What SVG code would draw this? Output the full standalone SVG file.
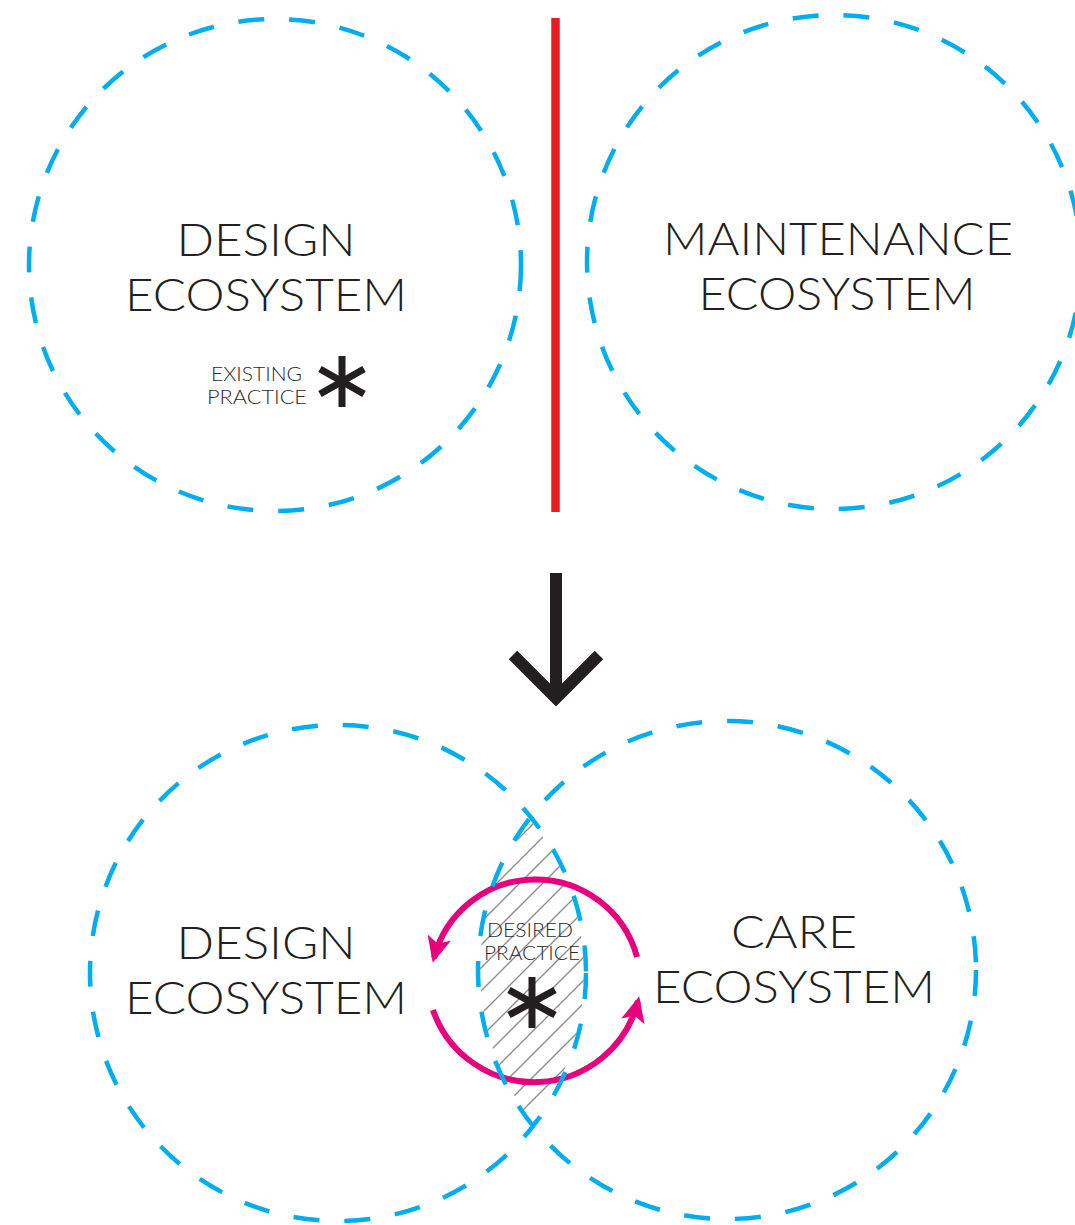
<svg xmlns="http://www.w3.org/2000/svg" width="1075" height="1225" viewBox="0 0 1075 1225">
  <style>
    .eco { fill: none; stroke: #00AEEF; stroke-width: 4.5; stroke-dasharray: 26 25; }
    .big { font-family: Lato, "Open Sans", "Liberation Sans", sans-serif; font-weight: 300; font-size: 46px; fill: #231F20; text-anchor: middle; }
    .small { font-family: Lato, "Open Sans", "Liberation Sans", sans-serif; font-weight: 300; font-size: 19px; fill: #2A2A2A; text-anchor: middle; }
    .ast { stroke: #231F20; stroke-width: 7; fill: none; }
    .pink { fill: none; stroke: #E6007E; stroke-width: 6; }
  </style>
  <defs>
    <pattern id="hatch" patternUnits="userSpaceOnUse" width="23" height="23">
      <path d="M-2,2 L2,-2 M0,23 L23,0 M21,25 L25,21" stroke="#8C8C8C" stroke-width="1.4"/>
    </pattern>
    <clipPath id="clipL"><circle cx="338" cy="973" r="246"/></clipPath>
    <clipPath id="clipR"><circle cx="727" cy="970" r="247"/></clipPath>
    <marker id="pinkHead" markerUnits="userSpaceOnUse" viewBox="0 0 26 26" markerWidth="26" markerHeight="26" refX="21" refY="13" orient="auto">
      <path d="M0,1 L26,13 L0,25 L6,13 z" fill="#E6007E"/>
    </marker>
  </defs>
  <rect width="1075" height="1225" fill="#ffffff"/>

  <!-- hatched overlap -->
  <g id="overlap" clip-path="url(#clipL)">
    <g clip-path="url(#clipR)">
      <rect x="470" y="810" width="130" height="330" fill="url(#hatch)"/>
    </g>
  </g>

  <!-- connectors -->
  <g id="connectors">
    <line x1="555.5" y1="18" x2="555.5" y2="512" stroke="#ED1C24" stroke-width="8.5"/>
    <line x1="556" y1="573" x2="556" y2="698" stroke="#231F20" stroke-width="12"/>
    <polyline points="513,655 556,698 599,655" fill="none" stroke="#231F20" stroke-width="12" stroke-linejoin="miter"/>
    <path class="pink" d="M 637 957 A 105 105 0 0 0 434 958" marker-end="url(#pinkHead)"/>
    <path class="pink" d="M 433 1010 A 107 107 0 0 0 638 1001" marker-end="url(#pinkHead)"/>
  </g>

  <g id="top-design">
    <circle class="eco" cx="275" cy="265" r="246"/>
    <text class="big" x="266" y="256" textLength="179" lengthAdjust="spacingAndGlyphs">DESIGN</text>
    <text class="big" x="266" y="311" textLength="282" lengthAdjust="spacingAndGlyphs">ECOSYSTEM</text>
  </g>
  <g id="existing-practice">
    <text class="small" x="256.5" y="381" textLength="91" lengthAdjust="spacingAndGlyphs">EXISTING</text>
    <text class="small" x="257" y="404" textLength="100" lengthAdjust="spacingAndGlyphs">PRACTICE</text>
    <g class="ast">
      <line x1="342" y1="356" x2="342" y2="407"/>
      <line x1="320" y1="369" x2="364" y2="394"/>
      <line x1="320" y1="394" x2="364" y2="369"/>
    </g>
  </g>
  <g id="top-maintenance">
    <circle class="eco" cx="834" cy="262" r="247"/>
    <text class="big" x="838" y="255" textLength="350" lengthAdjust="spacingAndGlyphs">MAINTENANCE</text>
    <text class="big" x="837" y="310" textLength="277" lengthAdjust="spacingAndGlyphs">ECOSYSTEM</text>
  </g>

  <g id="bottom-design">
    <circle class="eco" cx="338" cy="973" r="248"/>
    <text class="big" x="266" y="959" textLength="179" lengthAdjust="spacingAndGlyphs">DESIGN</text>
    <text class="big" x="266" y="1014" textLength="282" lengthAdjust="spacingAndGlyphs">ECOSYSTEM</text>
  </g>
  <g id="bottom-care">
    <circle class="eco" cx="727" cy="970" r="249"/>
    <text class="big" x="794" y="948" textLength="126" lengthAdjust="spacingAndGlyphs">CARE</text>
    <text class="big" x="794" y="1003" textLength="282" lengthAdjust="spacingAndGlyphs">ECOSYSTEM</text>
  </g>
  <g id="desired-practice">
    <text class="small" x="530" y="937" textLength="86" lengthAdjust="spacingAndGlyphs">DESIRED</text>
    <text class="small" x="532" y="960" textLength="96" lengthAdjust="spacingAndGlyphs">PRACTICE</text>
    <g class="ast">
      <line x1="532" y1="977" x2="532" y2="1028"/>
      <line x1="509" y1="990" x2="555" y2="1015"/>
      <line x1="509" y1="1015" x2="555" y2="990"/>
    </g>
  </g>
</svg>
